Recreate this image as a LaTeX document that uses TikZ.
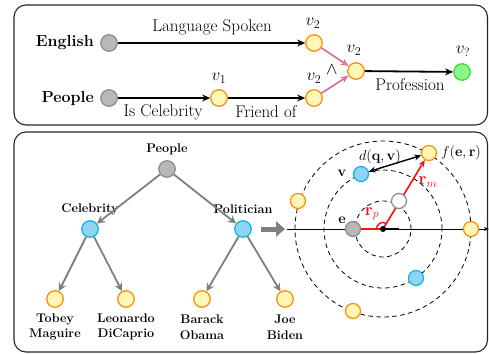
\documentclass[tikz,border=0pt]{standalone}
\usetikzlibrary{arrows.meta}
\definecolor{graybd}{HTML}{8A8A8A}
\definecolor{grayfill}{HTML}{B8B8B8}
\definecolor{orangebd}{HTML}{FF8A00}
\definecolor{yellowfill}{HTML}{FFF6B8}
\definecolor{bluebd}{HTML}{10AEEC}
\definecolor{bluefill}{HTML}{8ED5F4}
\definecolor{greenbd}{HTML}{2EE02E}
\definecolor{greenfill}{HTML}{8CF58C}
\definecolor{pinkarr}{HTML}{D9789F}
\definecolor{treegray}{HTML}{7F7F7F}
\definecolor{redarr}{HTML}{FF1010}
\pgfdeclarelayer{bg}
\pgfsetlayers{bg,main}
\tikzset{
  panel/.style={draw=black!85, line width=1.1pt, rounded corners=12pt},
  nd/.style={circle, minimum size=16.5pt, inner sep=0pt, line width=1.2pt},
  cnd/.style={circle, minimum size=15pt, inner sep=0pt, line width=1.2pt},
  gnode/.style={nd, draw=graybd, fill=grayfill},
  onode/.style={nd, draw=orangebd, fill=yellowfill},
  bnode/.style={nd, draw=bluebd, fill=bluefill},
  qnode/.style={nd, draw=greenbd, fill=greenfill},
  cg/.style={cnd, draw=graybd, fill=grayfill},
  co/.style={cnd, draw=orangebd, fill=yellowfill},
  cb/.style={cnd, draw=bluebd, fill=bluefill},
  cw/.style={cnd, draw=graybd, fill=white},
  big/.style={font=\fontsize{17}{20}\selectfont, inner sep=0pt},
  mth/.style={font=\fontsize{17.28}{20}\selectfont, inner sep=0pt},
  bigb/.style={font=\fontsize{16}{19}\selectfont\bfseries, inner sep=0pt},
  tb/.style={font=\fontsize{12.6}{15.5}\selectfont\bfseries, inner sep=0pt, align=center},
  blk/.style={line width=1.8pt, -{Stealth[length=8pt,width=7pt]}},
  pnk/.style={draw=pinkarr, line width=1.8pt, -{Stealth[length=8pt,width=7pt]}},
  garr/.style={draw=treegray, line width=1.8pt, -{Stealth[length=8pt,width=8pt]}},
  bigarr/.style={draw=treegray, line width=5pt, -{Triangle[length=9pt,width=15pt]}},
  dashc/.style={dashed, dash pattern=on 4.5pt off 3.5pt, line width=0.8pt},
  redl/.style={draw=redarr, line width=1.6pt},
  dbl/.style={line width=1.4pt, {Stealth[length=7pt,width=6pt]}-{Stealth[length=7pt,width=6pt]}}
}
\begin{document}
\begin{tikzpicture}[x=1pt,y=1pt]
\useasboundingbox (0,0) rectangle (489,-353);
% panels
\draw[panel] (14,-5) rectangle (487.5,-125);
\draw[panel] (14,-132) rectangle (487.5,-352);

% ---------- top panel ----------
\node[gnode] (en) at (109,-43) {};
\node[bigb, anchor=east] (enl) at (94,-43) {English};
\node[onode] (a2) at (314,-43) {};
\node[gnode] (pe) at (109,-98) {};
\node[bigb, anchor=east] (pel) at (94,-98) {People};
\node[onode] (a1) at (219,-98) {};
\node[onode] (b2) at (314,-98) {};
\node[onode] (c2) at (356,-71) {};
\node[qnode] (qq) at (462,-72) {};

\node[mth] (la2) at (313,-23) {$v_2$};
\node[mth] (la1) at (219,-78) {$v_1$};
\node[mth] (lb2) at (314,-78) {$v_2$};
\node[mth] (lc2) at (354,-50) {$v_2$};
\node[mth] (lq) at (463,-51) {$v_?$};
\node[mth] (land) at (332,-70) {$\wedge$};

\node[big] (tls) at (212,-27) {Language Spoken};
\node[big] (tic) at (163,-112) {Is Celebrity};
\node[big] (tfo) at (266,-112) {Friend of};
\node[big] (tpr) at (410,-85) {Profession};

\draw[blk] (en) -- (a2);
\draw[blk] (pe) -- (a1);
\draw[blk] (a1) -- (b2);
\draw[blk] (c2) -- (qq);
\draw[pnk] (a2) -- (c2);
\draw[pnk] (b2) -- (c2);

% ---------- tree ----------
\node[gnode] (tp) at (167,-169) {};
\node[tb] (tpl) at (167,-149) {People};
\node[bnode] (tc) at (90,-229) {};
\node[tb] (tcl) at (90,-209) {Celebrity};
\node[bnode] (tpo) at (243,-229) {};
\node[tb] (tpol) at (243,-209) {Politician};
\node[onode] (l1) at (55,-299) {};
\node[onode] (l2) at (126,-299) {};
\node[onode] (l3) at (202,-299) {};
\node[onode] (l4) at (285,-299) {};
\node[tb] (l1l) at (55,-327) {Tobey\\Maguire};
\node[tb] (l2l) at (126,-327) {Leonardo\\DiCaprio};
\node[tb] (l3l) at (202,-327) {Barack\\Obama};
\node[tb] (l4l) at (285,-327) {Joe\\Biden};
\draw[garr] (tp) -- (tc);
\draw[garr] (tp) -- (tpo);
\draw[garr] (tc) -- (l1);
\draw[garr] (tc) -- (l2);
\draw[garr] (tpo) -- (l3);
\draw[garr] (tpo) -- (l4);

\coordinate (gs) at (261,-229);
\coordinate (ge) at (285,-229);
\draw[bigarr] (gs) -- (ge);

% ---------- rotation diagram ----------
\coordinate (o) at (383,-229);
\coordinate (ax0) at (287,-229);
\coordinate (ax1) at (489,-229);
\coordinate (ot) at (399,-229);

\node[cg] (e) at (353,-229) {};
\node[cw] (w) at (399,-201) {};
\node[co] (f) at (429,-153) {};
\node[cb] (v) at (361,-174) {};
\node[co] (o1) at (298,-201) {};
\node[co] (o2) at (471,-229) {};
\node[co] (o3) at (353,-311) {};
\node[cb] (b1) at (416,-278) {};

\begin{pgfonlayer}{bg}
\draw[dashc] (o) circle[radius=28];
\draw[dashc] (o) circle[radius=59];
\draw[dashc] (o) circle[radius=88];
\draw[line width=0.8pt, -{Stealth[length=5pt,width=4pt]}] (ax0) -- (ax1);
\draw[line width=1.6pt] (o) -- (ot);
\draw[redl] (e) -- (o);
\draw[redl, -{Stealth[length=7pt,width=6pt]}] (o) -- (f);
\end{pgfonlayer}
\fill (o) circle[radius=3];
\draw[draw=redarr, line width=1.4pt] ([shift={(180:6.5)}]o) arc[start angle=180, end angle=58, radius=6.5];
\draw[dbl] (v) -- (f);

\node[font=\fontsize{14.4}{16}\selectfont, inner sep=0pt] (el) at (342,-220) {$\mathbf{e}$};
\node[font=\fontsize{14.4}{16}\selectfont, inner sep=0pt] (vl) at (342,-173) {$\mathbf{v}$};
\node[font=\fontsize{14.4}{16}\selectfont, inner sep=0pt] (dl) at (380,-157) {$d(\mathbf{q},\mathbf{v})$};
\node[font=\fontsize{14.4}{16}\selectfont, inner sep=0pt] (fl) at (461,-153) {$f(\mathbf{e},\mathbf{r})$};
\node[font=\fontsize{17.28}{19}\selectfont, inner sep=0pt, text=redarr] (rp) at (372,-214) {$\mathbf{r}_p$};
\node[font=\fontsize{17.28}{19}\selectfont, inner sep=0pt, text=redarr] (rm) at (428,-182) {$\mathbf{r}_m$};
\end{tikzpicture}
\end{document}
